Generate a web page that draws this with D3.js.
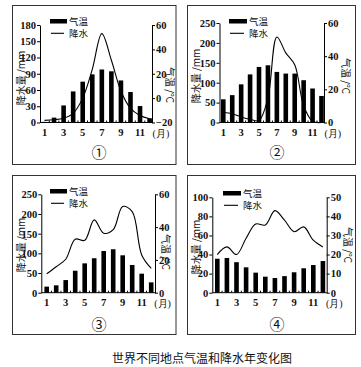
<!DOCTYPE html>
<html><head><meta charset="utf-8">
<script src="https://cdn.jsdelivr.net/npm/d3@7/dist/d3.min.js"></script>
<style>
body{margin:0;background:#fff;}
svg{display:block;}
</style></head>
<body>
<svg id="c" width="361" height="367"></svg>
<script>
// ---- data ----
const months = [1,2,3,4,5,6,7,8,9,10,11,12];
const monthTickLabels = [1,3,5,7,9,11];
const panelNames = ["①","②","③","④"];
const legendLabels = ["气温","降水"];
const leftAxisTitle = "降水量 /mm";
const rightAxisTitle = "气温 /℃";
const chartTitle = "世界不同地点气温和降水年变化图";

// panel 1
const temp1 = [-19.5,-16,-6,5.5,13.5,19.5,23.5,22,14.5,5,-6.5,-16.5];
const prec1 = [4,5,8,17,45,98,164,115,58,26,13,7];
const precTicks1 = [0,30,60,90,120,150,180];
const tempTicks1 = [-20,0,20,40,60];
// panel 2
const temp2 = [14,16.5,23,29,33.5,34.5,30.5,29.5,29.5,25.5,20.5,16];
const prec2 = [25,22,14,8,5,62,215,175,145,42,3,0];
const precTicks2 = [0,50,100,150,200,250];
const tempTicks2 = [0,20,40,60];
// panel 3
const temp3 = [3.7,4.5,7.7,13.4,17.9,21,25.4,26.5,22.8,16.9,11.6,6.3];
const prec3 = [48,66,85,136,133,185,151,160,219,206,96,62];
const precTicks3 = [0,50,100,150,200,250];
const tempTicks3 = [0,20,40,60];
// panel 4
const temp4 = [17.8,18.2,16,13.3,10.5,8.4,7.7,8.7,10.7,12.8,14.5,16.6];
const prec4 = [40,48,40,57,72,71,86,76,64,69,55,48];
const precTicks4 = [0,20,40,60,80,100];
const tempTicks4 = [0,10,20,30,40,50];

// ---- layout ----
const panels = [
  {name:panelNames[0], temp:temp1, prec:prec1, pT:precTicks1, tT:tempTicks1,
   frame:[12.5,5.5,163.5,159], L:40, R:152, top:25, bot:122.5, xr:[44.5,149.6],
   leg:{x:50, y:19, w:17, lx:69}, lt:{x:20,y:78}, rt:{x:170,y:85}, num:{x:99,y:151}},
  {name:panelNames[1], temp:temp2, prec:prec2, pT:precTicks2, tT:tempTicks2,
   frame:[187.5,5.5,168,159], L:219.5, R:324, top:23, bot:122.5, xr:[223.3,321.5],
   leg:{x:229, y:19, w:18, lx:249}, lt:{x:195,y:76}, rt:{x:346,y:76}, num:{x:277,y:151}},
  {name:panelNames[2], temp:temp3, prec:prec3, pT:precTicks3, tT:tempTicks3,
   frame:[12.5,175.5,163.5,159], L:41.3, R:155, top:194.3, bot:292.7, xr:[46.7,151.2],
   leg:{x:50, y:189, w:17, lx:69}, lt:{x:20,y:245}, rt:{x:166,y:252}, num:{x:99,y:323}},
  {name:panelNames[3], temp:temp4, prec:prec4, pT:precTicks4, tT:tempTicks4,
   frame:[187.5,175.5,168,159], L:212.3, R:326.7, top:197.3, bot:292.7, xr:[217.3,322.9],
   leg:{x:223, y:191, w:18, lx:243}, lt:{x:195,y:247}, rt:{x:348,y:245}, num:{x:277,y:323}}
];

const svg = d3.select("#c");
svg.append("rect").attr("width",361).attr("height",367).attr("fill","#fff");

const numFont = "'Liberation Serif','Times New Roman',serif";
const cjkFont = "'Noto Sans CJK SC','Noto Sans',sans-serif";

panels.forEach(p => {
  const g = svg.append("g");
  g.append("rect").attr("x",p.frame[0]).attr("y",p.frame[1])
    .attr("width",p.frame[2]).attr("height",p.frame[3])
    .attr("fill","none").attr("stroke","#333").attr("stroke-width",1);

  const x = d3.scalePoint().domain(months).range(p.xr);
  const step = x.step();
  const yP = d3.scaleLinear().domain([p.pT[0], p.pT[p.pT.length-1]]).range([p.bot,p.top]);
  const yT = d3.scaleLinear().domain([p.tT[0], p.tT[p.tT.length-1]]).range([p.bot,p.top]);

  // bars (temperature)
  const bw = 4.6;
  g.selectAll("rect.bar").data(months).join("rect").attr("class","bar")
    .attr("x", m => x(m)-bw/2).attr("width", bw)
    .attr("y", (m,i) => yT(p.temp[i]))
    .attr("height", (m,i) => Math.max(0, p.bot - yT(p.temp[i])))
    .attr("fill","#000");

  // line (precipitation)
  const line = d3.line().x((d,i)=>x(months[i])).y(d=>yP(d)).curve(d3.curveCatmullRom.alpha(0.5));
  g.append("path").datum(p.prec).attr("d", line)
    .attr("fill","none").attr("stroke","#000").attr("stroke-width",1.1);

  // left axis
  const la = g.append("g").attr("transform",`translate(${p.L},0)`)
    .call(d3.axisLeft(yP).tickValues(p.pT).tickSize(3).tickPadding(1).tickSizeOuter(0));
  // right axis
  const ra = g.append("g").attr("transform",`translate(${p.R},0)`)
    .call(d3.axisRight(yT).tickValues(p.tT).tickSize(3).tickPadding(1).tickSizeOuter(0));
  [la,ra].forEach(a => {
    a.select(".domain").attr("stroke","#000").attr("stroke-width",1);
    a.selectAll(".tick line").attr("stroke","#000");
    a.selectAll("text").attr("font-family",numFont).attr("font-size",10.5)
      .attr("font-weight","bold").attr("fill","#111");
  });

  // bottom axis
  const xa = g.append("g").attr("transform",`translate(0,${p.bot})`);
  xa.append("line").attr("x1",p.L).attr("x2",p.R).attr("stroke","#000").attr("stroke-width",1);
  xa.selectAll("line.t").data(months.slice(0,11)).join("line").attr("class","t")
    .attr("x1", m => x(m)+step/2).attr("x2", m => x(m)+step/2)
    .attr("y1",0).attr("y2",-2).attr("stroke","#000");
  xa.selectAll("text.m").data(monthTickLabels).join("text").attr("class","m")
    .attr("x", m => x(m)).attr("y", 13.5).attr("text-anchor","middle")
    .attr("font-family",numFont).attr("font-size",10.5).attr("font-weight","bold")
    .attr("fill","#111").text(d=>d);
  xa.append("text").attr("x", x(12)+3).attr("y",14)
    .attr("font-family",numFont).attr("font-size",10).attr("fill","#111")
    .text("(月)");

  // legend
  g.append("rect").attr("x",p.leg.x).attr("y",p.leg.y).attr("width",p.leg.w).attr("height",4.5).attr("fill","#000");
  g.append("text").attr("x",p.leg.lx).attr("y",p.leg.y+5.5).attr("font-family",cjkFont)
    .attr("font-size",9.5).attr("fill","#111").text(legendLabels[0]);
  g.append("line").attr("x1",p.leg.x+1).attr("x2",p.leg.x+p.leg.w-3)
    .attr("y1",p.leg.y+14.3).attr("y2",p.leg.y+14.3).attr("stroke","#000").attr("stroke-width",1.1);
  g.append("text").attr("x",p.leg.lx).attr("y",p.leg.y+18).attr("font-family",cjkFont)
    .attr("font-size",9.5).attr("fill","#111").text(legendLabels[1]);

  // axis titles
  g.append("text").attr("transform",`translate(${p.lt.x},${p.lt.y}) rotate(-90)`)
    .attr("text-anchor","middle").attr("dominant-baseline","central")
    .attr("font-family",cjkFont).attr("font-size",10).attr("fill","#111").text(leftAxisTitle);
  g.append("text").attr("transform",`translate(${p.rt.x},${p.rt.y}) rotate(90)`)
    .attr("text-anchor","middle").attr("dominant-baseline","central")
    .attr("font-family",cjkFont).attr("font-size",10).attr("fill","#111").text(rightAxisTitle);

  // panel number
  g.append("text").attr("x",p.num.x).attr("y",p.num.y).attr("text-anchor","middle")
    .attr("dominant-baseline","central").attr("font-family",cjkFont)
    .attr("font-size",15).attr("fill","#111").text(p.name);
});

svg.append("text").attr("x",202).attr("y",357).attr("text-anchor","middle")
  .attr("dominant-baseline","central").attr("font-family",cjkFont)
  .attr("font-size",12).attr("fill","#111").text(chartTitle);
</script>
</body></html>
